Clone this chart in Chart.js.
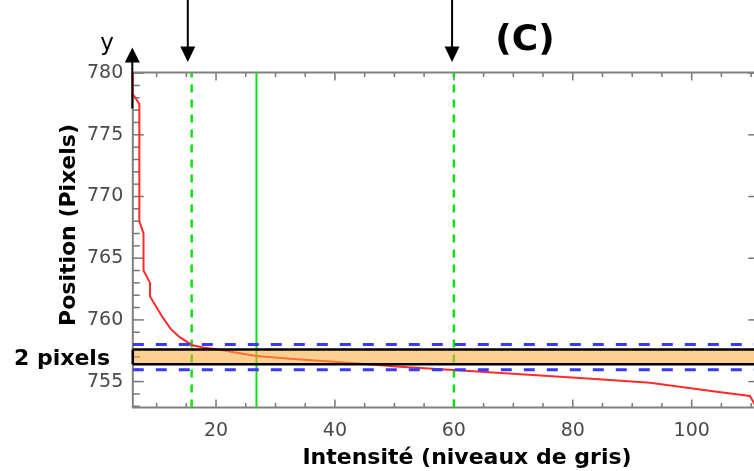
<!DOCTYPE html>
<html>
<head>
<meta charset="utf-8">
<script src="https://cdn.jsdelivr.net/npm/chart.js@4.4.1/dist/chart.umd.min.js"></script>
<style>
  html, body { margin: 0; padding: 0; background: #fff; overflow: hidden; }
  #wrap { position: relative; width: 760px; height: 471px; }
</style>
</head>
<body>
<div id="wrap"><canvas id="c" width="760" height="471"></canvas></div>
<script>
// Grey-level profile across the edge: position (pixels) against intensity
const intensities = [6.0, 6.0, 7.1, 7.1, 7.8, 7.8, 8.9, 8.9, 10.9, 12.4, 13.9, 15.9, 18.0, 20.1, 23.5, 26.8, 33.0, 39.7, 45.0, 50.9, 59.9, 70.6, 81.8, 93.0, 104.2, 109.8, 111.0];
const positions   = [780.1, 778.3, 777.5, 768.0, 767.0, 764.0, 763.0, 761.9, 760.3, 759.25, 758.6, 757.97, 757.75, 757.62, 757.33, 757.07, 756.83, 756.61, 756.42, 756.21, 755.94, 755.62, 755.27, 754.91, 754.18, 753.83, 752.8];

// Axis ranges and labelled ticks
const X_RANGE = [6, 110.7];
const Y_RANGE = [752.9, 780.05];
const X_TICKS = [20, 40, 60, 80, 100];
const Y_TICKS = [755, 760, 765, 770, 775, 780];

// Threshold guides (intensity) and edge limits (position)
const GUIDE_DASHED = [15.9, 60];
const GUIDE_SOLID = [26.8];
const LIMITS = [758, 755.95];
const BAND = [756.4, 757.6];
const ARROWS_X = [15.25, 59.7];

const FONT = "'DejaVu Sans', sans-serif";
Chart.defaults.font.family = FONT;

const profile = intensities.map((v, i) => ({ x: v, y: positions[i] }));

function hLine(yv) { return [{ x: X_RANGE[0], y: yv }, { x: X_RANGE[1] + 5, y: yv }]; }
function vLine(xv) { return [{ x: xv, y: Y_RANGE[0] }, { x: xv, y: Y_RANGE[1] }]; }

const datasets = [];
LIMITS.forEach(v => datasets.push({
  data: hLine(v), showLine: true, pointRadius: 0, borderColor: '#3a3aff',
  borderWidth: 3, borderDash: [11, 12], order: 0
}));
datasets.push({
  data: profile, showLine: true, pointRadius: 0, borderColor: '#ff2b2b',
  borderWidth: 2, tension: 0, order: 1
});
GUIDE_DASHED.forEach(v => datasets.push({
  data: vLine(v), showLine: true, pointRadius: 0, borderColor: '#10e010',
  borderWidth: 2.5, borderDash: [8, 7], order: 2
}));
GUIDE_SOLID.forEach(v => datasets.push({
  data: vLine(v), showLine: true, pointRadius: 0, borderColor: '#10e010',
  borderWidth: 2, order: 2
}));

// Plot frame with inward tick marks on all four sides
const frame = {
  id: 'frame',
  beforeDatasetsDraw(chart) {
    const { ctx, chartArea: a, scales: { x, y } } = chart;
    ctx.save();
    ctx.strokeStyle = '#777';
    ctx.lineWidth = 1.5;
    for (let v = Math.ceil(y.min); v <= y.max; v++) {
      const p = y.getPixelForValue(v);
      const major = v % 5 === 0;
      ctx.beginPath(); ctx.moveTo(a.left, p); ctx.lineTo(a.left + (major ? 11 : 7), p); ctx.stroke();
      if (major) { ctx.beginPath(); ctx.moveTo(a.right, p); ctx.lineTo(a.right - 7, p); ctx.stroke(); }
    }
    for (let v = Math.ceil(x.min / 5) * 5; v <= x.max; v += 5) {
      const p = x.getPixelForValue(v);
      const len = v % 20 === 0 ? 8 : 4.5;
      ctx.beginPath(); ctx.moveTo(p, a.bottom); ctx.lineTo(p, a.bottom - len); ctx.stroke();
      ctx.beginPath(); ctx.moveTo(p, a.top); ctx.lineTo(p, a.top + len); ctx.stroke();
    }
    ctx.strokeStyle = '#808080';
    ctx.lineWidth = 2;
    ctx.strokeRect(a.left, a.top, a.right - a.left, a.bottom - a.top);
    ctx.restore();
  }
};

// Highlighted 2-pixel band, arrows and labels
const annotations = {
  id: 'annotations',
  afterDatasetsDraw(chart) {
    const { ctx, chartArea: a, scales: { x, y } } = chart;
    const top = y.getPixelForValue(BAND[1]);
    const bot = y.getPixelForValue(BAND[0]);
    ctx.save();
    ctx.fillStyle = 'rgba(251,170,55,0.55)';
    ctx.fillRect(a.left, top, chart.width - a.left, bot - top);
    ctx.strokeStyle = '#000';
    ctx.lineWidth = 2.5;
    ctx.beginPath();
    ctx.moveTo(a.left, top); ctx.lineTo(chart.width, top);
    ctx.moveTo(a.left, bot); ctx.lineTo(chart.width, bot);
    ctx.moveTo(a.left, top); ctx.lineTo(a.left, bot);
    ctx.stroke();
    ctx.restore();
  },
  afterDraw(chart) {
    const { ctx, chartArea: a, scales: { x, y } } = chart;
    ctx.save();
    ctx.fillStyle = '#000';
    ctx.strokeStyle = '#000';
    ctx.lineWidth = 2;

    // downward arrows marking the two thresholds
    ARROWS_X.forEach(v => {
      const px = x.getPixelForValue(v);
      ctx.beginPath(); ctx.moveTo(px, 0); ctx.lineTo(px, a.top - 24); ctx.stroke();
      ctx.beginPath();
      ctx.moveTo(px - 7.5, a.top - 26); ctx.lineTo(px + 7.5, a.top - 26); ctx.lineTo(px, a.top - 10.5);
      ctx.closePath(); ctx.fill();
    });

    // upward arrow along the position axis
    const ax = a.left - 0.5;
    ctx.beginPath(); ctx.moveTo(ax, a.top + 36); ctx.lineTo(ax, a.top - 12); ctx.stroke();
    ctx.beginPath();
    ctx.moveTo(ax - 7.5, a.top - 10); ctx.lineTo(ax + 7.5, a.top - 10); ctx.lineTo(ax, a.top - 25);
    ctx.closePath(); ctx.fill();

    ctx.textBaseline = 'alphabetic';
    ctx.font = `23px ${FONT}`;
    ctx.textAlign = 'center';
    ctx.fillText('y', 107, 49.5);

    ctx.font = `bold 36px ${FONT}`;
    ctx.fillText('(C)', 525, 50);

    ctx.font = `bold 22px ${FONT}`;
    ctx.textAlign = 'right';
    ctx.fillText('2 pixels', 110, (top() + 8));
    function top() { return (y.getPixelForValue(BAND[0]) + y.getPixelForValue(BAND[1])) / 2; }

    ctx.textAlign = 'center';
    ctx.fillText('Intensité (niveaux de gris)', 467, 463.5);

    ctx.translate(75, 225);
    ctx.rotate(-Math.PI / 2);
    ctx.fillText('Position (Pixels)', 0, 0);
    ctx.restore();
  }
};

new Chart(document.getElementById('c'), {
  type: 'scatter',
  data: { datasets },
  options: {
    animation: false,
    responsive: false,
    devicePixelRatio: 1,
    layout: { padding: { left: 0, top: 72.5, right: 4.7, bottom: 0 } },
    plugins: { legend: { display: false }, tooltip: { enabled: false } },
    scales: {
      x: {
        type: 'linear', min: X_RANGE[0], max: X_RANGE[1],
        afterFit(s) { s.height = 63.5; },
        afterBuildTicks(s) { s.ticks = X_TICKS.map(v => ({ value: v })); },
        grid: { display: false, drawTicks: false },
        border: { display: false },
        ticks: { font: { size: 19 }, color: '#4a4a4a', padding: 12, maxRotation: 0, autoSkip: false }
      },
      y: {
        type: 'linear', min: Y_RANGE[0], max: Y_RANGE[1],
        afterFit(s) { s.width = 132.8; },
        afterBuildTicks(s) { s.ticks = Y_TICKS.map(v => ({ value: v })); },
        grid: { display: false, drawTicks: false },
        border: { display: false },
        ticks: { font: { size: 19 }, color: '#4a4a4a', padding: 9.5, autoSkip: false }
      }
    }
  },
  plugins: [frame, annotations]
});
</script>
</body>
</html>
